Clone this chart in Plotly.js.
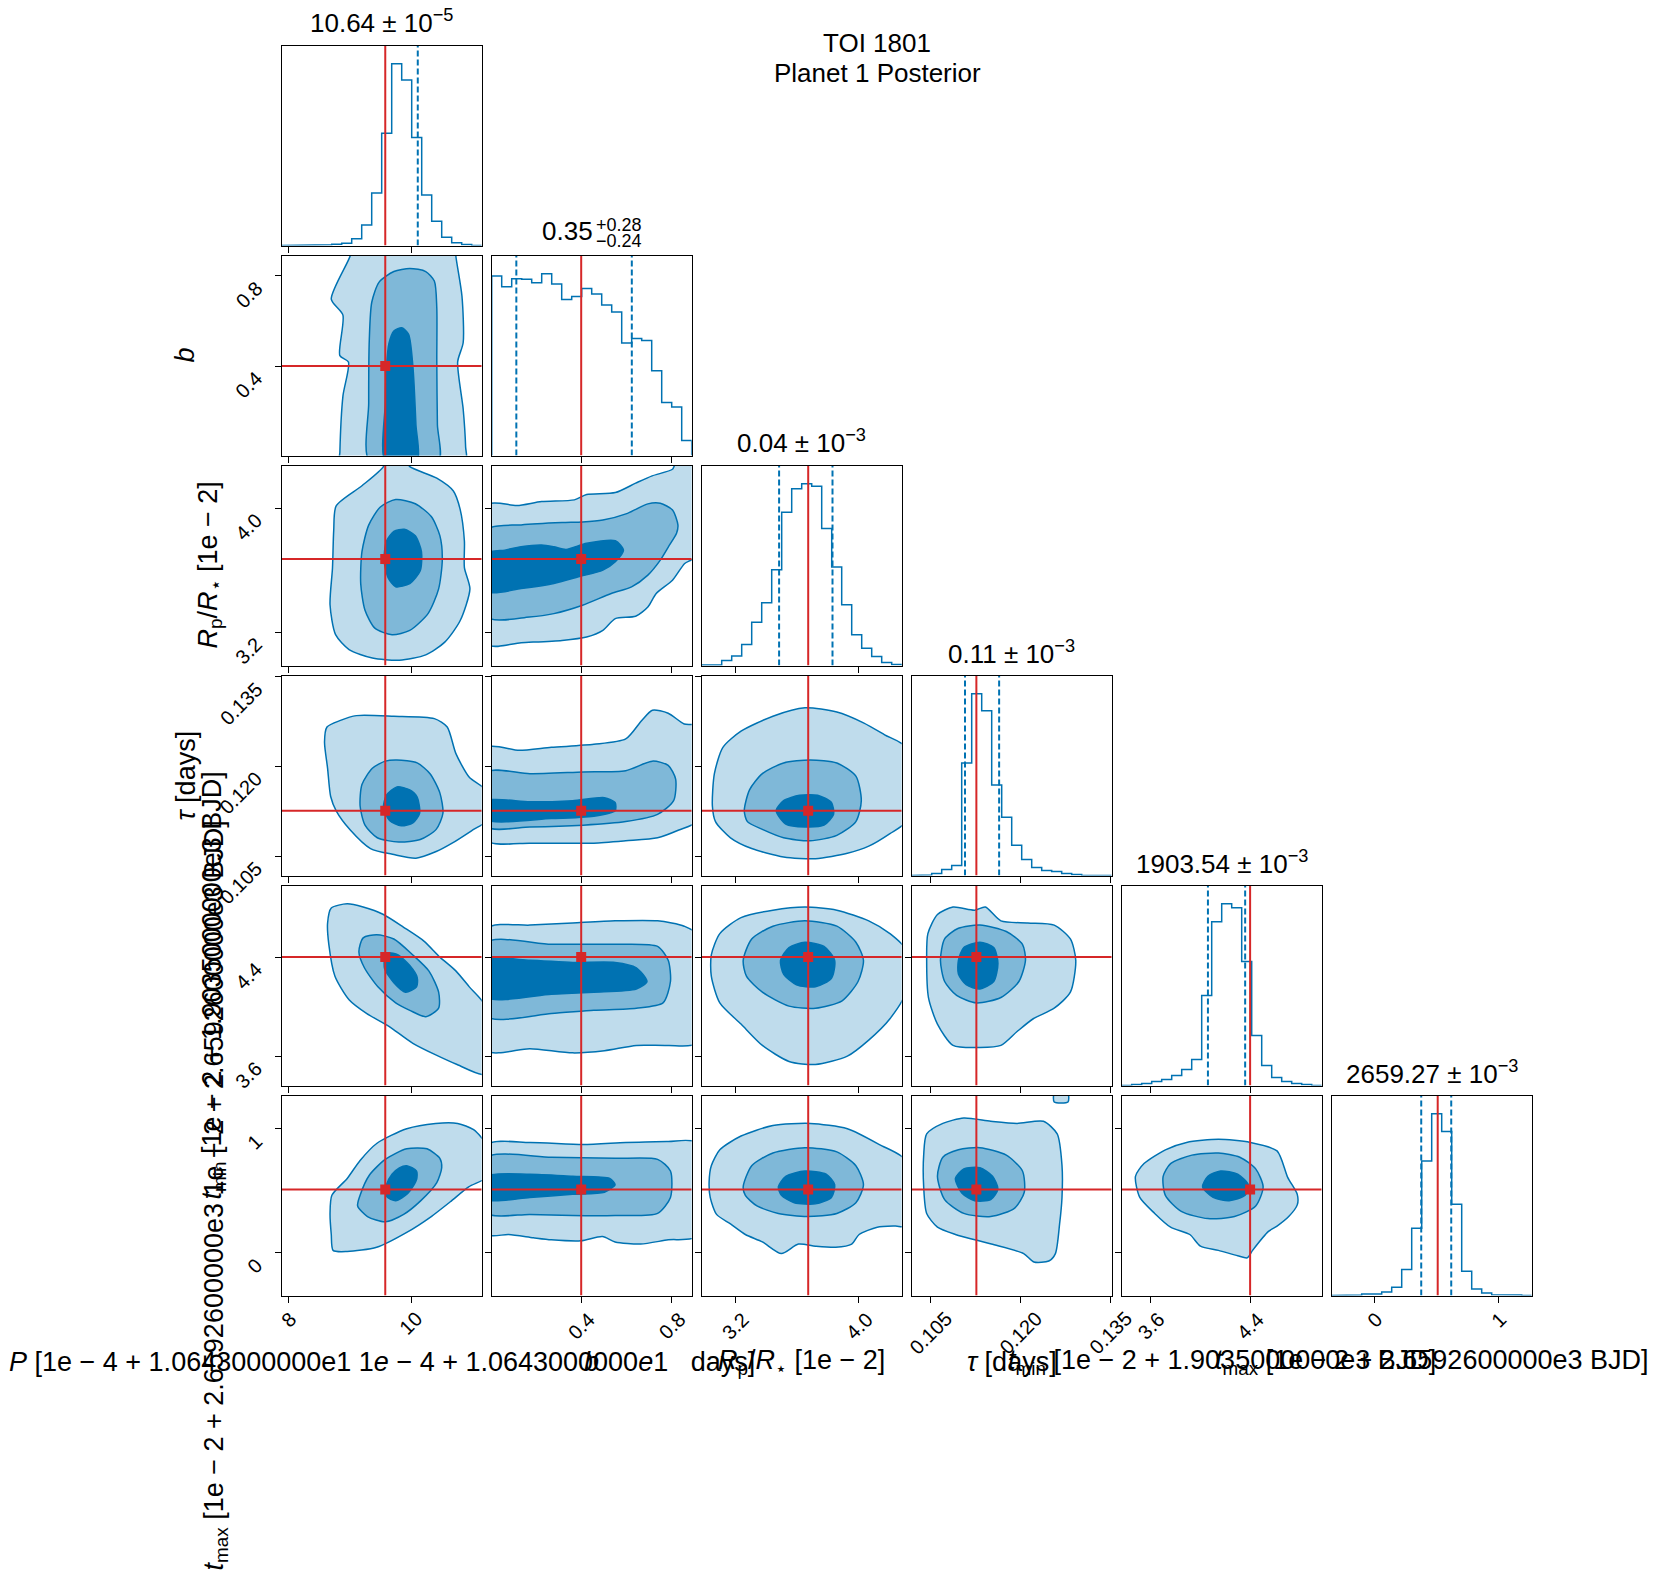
<!DOCTYPE html>
<html><head><meta charset="utf-8">
<script src="https://cdn.plot.ly/plotly-3.0.1.min.js"></script>
<style>html,body{margin:0;padding:0;background:#fff}#plot{width:1661px;height:1590px}</style>
</head><body><div id="plot"></div>
<script>
// ---------------- data ----------------
const rangeP=[7.892,11.152], rangeB=[0.004,0.889], rangeR=[2.984,4.276], rangeT=[0.1018,0.1352], rangeN=[3.365,4.977], rangeX=[-0.345,1.268];
const truthVals=[9.58,0.40,3.672,0.1126,4.40,0.51];
const tickP=[8,10], tickB=[0.4,0.8], tickR=[3.2,4.0], tickT=[0.105,0.120,0.135], tickN=[3.6,4.4], tickX=[0,1];
const labP=['8','10'], labB=['0.4','0.8'], labR=['3.2','4.0'], labT=['0.105','0.120','0.135'], labN=['3.6','4.4'], labX=['0','1'];
// histogram counts (20 bins over each range)
const histP=[0,0,0,0,2,4,7,20,62,158,338,547,498,325,152,73,25,8,3,0];
const histB=[901,848,888,885,868,913,861,783,799,838,811,756,721,565,587,577,425,266,244,75];
const histR=[3,3,25,47,105,217,314,480,768,886,911,898,686,493,304,154,87,45,15,5];
const histT=[0,3,10,30,50,560,905,820,450,290,150,80,40,25,20,10,5,0,0,0];
const histN=[0,5,10,20,30,50,80,130,450,820,910,890,620,250,100,40,20,10,5,0];
const histX=[0,0,3,7,7,18,42,130,337,675,912,822,458,122,33,12,4,3,2,0];
// dashed quantile lines
const quantP=[10.11], quantB=[0.113,0.624], quantR=[3.484,3.829], quantT=[0.1107,0.1164], quantN=[4.06,4.36], quantX=[0.377,0.619];
// diagonal titles
const diagTitles=['10.64 ± 10<sup>−5</sup>','0.35','0.04 ± 10<sup>−3</sup>','0.11 ± 10<sup>−3</sup>','1903.54 ± 10<sup>−3</sup>','2659.27 ± 10<sup>−3</sup>'];
const bSup='+0.28', bSub='−0.24';
const axisLabels=['<i>P</i> [1e − 4 + 1.0643000000e1 1<i>e</i> − 4 + 1.0643000000<i>e</i>1 &nbsp; days]','<i>b</i>','<i>R</i><sub>p</sub>/<i>R</i><sub>⋆</sub> [1e − 2]','<i>τ</i> [days]','<i>t</i><sub>min</sub> [1e − 2 + 1.9035000000e3 BJD]','<i>t</i><sub>max</sub> [1e − 2 + 2.6592600000e3 BJD]'];
const yLabels=['','<i>b</i>','<i>R</i><sub>p</sub>/<i>R</i><sub>⋆</sub> [1e − 2]','<i>τ</i> [days]','<i>t</i><sub>min</sub> [1e − 2 + 1.9035000000e3 BJD]','<i>t</i><sub>max</sub> [1e − 2 + 2.6592600000e3 1e − 2 + 2.6592600000e3 BJD]'];
const titleLines=['TOI 1801','Planet 1 Posterior'];

// contour polygons (outer=1, middle=2, inner=3), x = column variable, y = row variable
const bP_1x=[9.01,9.01,8.70,8.89,8.84,8.98,8.89,8.84,8.84,10.89,10.89,10.85,10.76,10.85,10.83,10.73,10.73];
const bP_1y=[0.92,0.889,0.696,0.625,0.446,0.418,0.267,0.017,-0.02,-0.02,0.041,0.210,0.418,0.503,0.710,0.889,0.92];
const bP_2x=[9.32,9.31,9.32,9.36,9.48,9.72,9.98,10.24,10.38,10.42,10.42,10.43,10.45];
const bP_2y=[-0.02,0.234,0.517,0.682,0.771,0.818,0.832,0.818,0.776,0.658,0.422,0.14,-0.02];
const bP_3x=[9.58,9.58,9.60,9.64,9.72,9.85,9.96,10.03,10.08,10.10];
const bP_3y=[-0.02,0.234,0.399,0.500,0.555,0.569,0.540,0.400,0.14,-0.02];

const RP_1x=[8.78,9.20,9.55,9.58,9.88,9.98,10.42,10.69,10.80,10.87,10.87,10.96,10.80,10.55,10.24,9.81,9.37,8.99,8.77,8.68,8.72,8.74];
const RP_1y=[4.015,4.145,4.269,4.324,4.324,4.269,4.194,4.111,3.994,3.788,3.616,3.479,3.273,3.135,3.053,3.018,3.032,3.087,3.183,3.376,3.616,3.857];
const RP_2x=[9.75,10.07,10.33,10.47,10.51,10.45,10.28,9.98,9.69,9.41,9.25,9.18,9.20,9.31,9.50];
const RP_2y=[4.056,4.029,3.946,3.823,3.671,3.479,3.321,3.211,3.183,3.225,3.341,3.513,3.719,3.891,4.008];
const RP_3x=[9.89,10.07,10.17,10.15,9.98,9.75,9.63,9.56,9.60,9.72];
const RP_3y=[3.864,3.822,3.719,3.596,3.513,3.493,3.548,3.664,3.788,3.850];

const TP_1x=[8.63,8.85,9.11,9.72,10.38,10.59,10.73,10.95,11.21,11.21,11.02,10.67,10.41,10.08,9.72,9.34,9.01,8.78,8.69,8.64,8.59];
const TP_1y=[0.1266,0.1277,0.1285,0.1284,0.1280,0.1266,0.1222,0.1182,0.1161,0.1108,0.1095,0.1072,0.1058,0.1047,0.1053,0.1063,0.1094,0.1126,0.1150,0.1197,0.1241];
const TP_2x=[9.77,10.10,10.31,10.47,10.52,10.41,10.15,9.80,9.45,9.25,9.17,9.20,9.37,9.58];
const TP_2y=[0.1211,0.1206,0.1188,0.1156,0.1122,0.1095,0.1078,0.1074,0.1081,0.1102,0.1134,0.1170,0.1197,0.1209];
const TP_3x=[9.77,9.98,10.10,10.14,10.03,9.84,9.65,9.55,9.60];
const TP_3y=[0.1166,0.1161,0.1149,0.1122,0.1106,0.1101,0.1110,0.1131,0.1152];

const NP_1x=[8.70,8.96,9.22,9.55,9.88,10.21,10.47,10.73,10.95,11.21,11.21,10.75,10.03,9.64,9.28,8.99,8.76,8.66,8.64];
const NP_1y=[4.795,4.829,4.803,4.743,4.640,4.529,4.400,4.289,4.160,4.005,3.456,3.534,3.705,3.842,3.945,4.057,4.246,4.503,4.675];
const NP_2x=[9.22,9.44,9.72,10.03,10.29,10.45,10.45,10.24,9.98,9.75,9.46,9.24,9.15];
const NP_2y=[4.555,4.580,4.546,4.417,4.289,4.117,3.988,3.920,3.971,4.031,4.160,4.314,4.443];
const NP_3x=[9.63,9.79,9.98,10.10,10.09,9.91,9.72,9.57,9.57];
const NP_3y=[4.434,4.417,4.332,4.237,4.160,4.117,4.194,4.306,4.392];

const XP_1x=[8.73,8.96,9.44,9.93,10.33,10.64,10.94,11.25,11.25,11.02,10.76,10.40,9.93,9.44,9.17,8.96,8.71,8.68,8.70];
const XP_1y=[0.019,0.010,0.044,0.164,0.292,0.411,0.531,0.616,0.855,0.992,1.043,1.043,1.000,0.881,0.744,0.599,0.463,0.317,0.147];
const XP_2x=[9.17,9.32,9.58,9.93,10.26,10.47,10.50,10.42,10.16,9.88,9.58,9.29,9.13];
const XP_2y=[0.463,0.625,0.753,0.838,0.838,0.761,0.685,0.565,0.420,0.309,0.249,0.292,0.377];
const XP_3x=[9.60,9.69,9.81,9.93,10.09,10.09,9.95,9.75,9.60];
const XP_3y=[0.548,0.633,0.685,0.702,0.659,0.591,0.480,0.420,0.454];

const Rb_1x=[-0.01,0.116,0.225,0.370,0.424,0.551,0.641,0.714,0.804,0.819,0.904,0.904,0.858,0.804,0.732,0.695,0.641,0.551,0.496,0.424,0.315,0.134,-0.01];
const Rb_1y=[4.025,4.017,4.043,4.054,4.088,4.101,4.162,4.209,4.252,4.291,4.291,3.686,3.643,3.535,3.449,3.362,3.302,3.287,3.211,3.168,3.146,3.131,3.118];
const Rb_2x=[-0.01,0.134,0.315,0.406,0.496,0.605,0.695,0.750,0.804,0.828,0.822,0.786,0.750,0.695,0.623,0.533,0.406,0.279,0.171,-0.01];
const Rb_2y=[3.866,3.892,3.907,3.911,3.924,3.967,4.028,4.032,3.989,3.892,3.838,3.751,3.665,3.568,3.492,3.449,3.373,3.319,3.298,3.293];
const Rb_3x=[-0.01,0.062,0.134,0.225,0.279,0.333,0.424,0.551,0.587,0.551,0.496,0.388,0.279,0.134,-0.01];
const Rb_3y=[3.712,3.729,3.751,3.762,3.751,3.734,3.773,3.790,3.729,3.654,3.600,3.557,3.514,3.481,3.460];

const Tb_1x=[-0.015,0.126,0.268,0.456,0.597,0.668,0.715,0.785,0.856,0.908,0.908,0.832,0.738,0.597,0.456,0.315,0.173,-0.015];
const Tb_1y=[0.1232,0.1227,0.1232,0.1237,0.1246,0.1277,0.1294,0.1289,0.1271,0.1268,0.1108,0.1094,0.1081,0.1076,0.1072,0.1072,0.1072,0.1076];
const Tb_2x=[-0.015,0.173,0.409,0.597,0.715,0.785,0.818,0.809,0.738,0.597,0.409,0.173,-0.015];
const Tb_2y=[0.1191,0.1188,0.1191,0.1193,0.1209,0.1202,0.1179,0.1143,0.1120,0.1108,0.1102,0.1099,0.1099];
const Tb_3x=[-0.015,0.173,0.362,0.503,0.550,0.550,0.456,0.268,-0.015];
const Tb_3y=[0.1143,0.1141,0.1143,0.1148,0.1140,0.1126,0.1117,0.1113,0.1111];

const Nb_1x=[-0.015,0.173,0.362,0.550,0.738,0.856,0.908,0.908,0.785,0.644,0.503,0.362,0.173,-0.015];
const Nb_1y=[4.632,4.658,4.675,4.692,4.692,4.649,4.589,3.705,3.688,3.688,3.645,3.628,3.662,3.645];
const Nb_2x=[-0.015,0.268,0.550,0.738,0.785,0.795,0.762,0.644,0.456,0.268,-0.015];
const Nb_2y=[4.520,4.503,4.503,4.486,4.374,4.203,4.031,3.988,3.971,3.945,3.920];
const Nb_3x=[-0.015,0.173,0.362,0.550,0.644,0.691,0.644,0.456,0.268,-0.015];
const Nb_3y=[4.374,4.374,4.357,4.357,4.314,4.203,4.143,4.117,4.100,4.074];

const Xb_1x=[-0.015,0.173,0.409,0.597,0.785,0.908,0.908,0.785,0.663,0.550,0.494,0.399,0.268,0.188,0.079,-0.015];
const Xb_1y=[0.872,0.889,0.872,0.889,0.898,0.889,0.130,0.104,0.070,0.087,0.130,0.096,0.104,0.121,0.147,0.147];
const Xb_2x=[-0.015,0.268,0.550,0.738,0.795,0.795,0.738,0.550,0.362,0.173,-0.015];
const Xb_2y=[0.770,0.770,0.761,0.753,0.659,0.446,0.317,0.300,0.300,0.309,0.317];
const Xb_3x=[-0.015,0.173,0.362,0.526,0.550,0.503,0.362,0.173,-0.015];
const Xb_3y=[0.616,0.633,0.616,0.599,0.548,0.488,0.471,0.446,0.428];

const TR_1x=[3.053,3.066,3.121,3.238,3.444,3.651,3.857,4.029,4.166,4.303,4.303,4.200,4.063,3.925,3.719,3.513,3.307,3.170,3.073];
const TR_1y=[0.1134,0.1188,0.1232,0.1259,0.1284,0.1298,0.1291,0.1273,0.1253,0.1232,0.1108,0.1088,0.1067,0.1055,0.1046,0.1049,0.1063,0.1081,0.1108];
const TR_2x=[3.259,3.293,3.376,3.513,3.685,3.857,3.980,4.015,3.980,3.857,3.685,3.513,3.376,3.279];
const TR_2y=[0.1126,0.1161,0.1188,0.1206,0.1211,0.1206,0.1184,0.1143,0.1108,0.1085,0.1076,0.1081,0.1095,0.1108];
const TR_3x=[3.465,3.513,3.616,3.733,3.822,3.836,3.774,3.651,3.527];
const TR_3y=[0.1126,0.1143,0.1152,0.1152,0.1140,0.1120,0.1102,0.1099,0.1104];

const NR_1x=[3.046,3.101,3.238,3.444,3.651,3.857,4.063,4.200,4.303,4.303,4.200,4.063,3.925,3.719,3.548,3.376,3.238,3.101,3.046];
const NR_1y=[4.417,4.589,4.718,4.778,4.803,4.778,4.692,4.589,4.460,4.117,3.903,3.731,3.602,3.534,3.559,3.688,3.860,4.031,4.246];
const NR_2x=[3.252,3.307,3.444,3.651,3.857,3.980,4.029,3.994,3.891,3.719,3.548,3.376,3.273];
const NR_2y=[4.374,4.546,4.649,4.692,4.649,4.520,4.374,4.203,4.048,3.988,4.005,4.117,4.246];
const NR_3x=[3.493,3.548,3.651,3.774,3.843,3.822,3.719,3.596,3.513];
const NR_3y=[4.374,4.477,4.520,4.486,4.374,4.229,4.160,4.177,4.263];

const XR_1x=[3.032,3.046,3.101,3.238,3.444,3.685,3.925,4.132,4.303,4.303,4.235,4.118,4.001,3.953,3.850,3.719,3.609,3.499,3.376,3.266,3.170,3.080,3.039];
const XR_1y=[0.574,0.702,0.830,0.941,1.026,1.043,1.000,0.872,0.744,0.215,0.215,0.206,0.147,0.070,0.044,0.053,0.070,-0.007,0.087,0.147,0.232,0.309,0.446];
const XR_2x=[3.252,3.307,3.444,3.651,3.857,3.980,4.029,3.980,3.857,3.664,3.479,3.341,3.266];
const XR_2y=[0.531,0.702,0.804,0.847,0.813,0.702,0.548,0.403,0.317,0.292,0.317,0.377,0.463];
const XR_3x=[3.479,3.527,3.651,3.788,3.843,3.822,3.719,3.582,3.499];
const XR_3y=[0.531,0.616,0.659,0.633,0.548,0.446,0.394,0.403,0.463];

const NT_1x=[0.1043,0.1045,0.1061,0.1087,0.1123,0.1141,0.1167,0.1212,0.1256,0.1283,0.1292,0.1283,0.1256,0.1221,0.1194,0.1167,0.1132,0.1087,0.1061,0.1046];
const NT_1y=[4.374,4.589,4.743,4.803,4.778,4.803,4.692,4.675,4.658,4.546,4.374,4.117,3.988,3.903,3.800,3.688,3.671,3.688,3.860,4.074];
const NT_2x=[0.1066,0.1073,0.1096,0.1132,0.1176,0.1203,0.1208,0.1197,0.1167,0.1126,0.1093,0.1073];
const NT_2y=[4.374,4.546,4.632,4.658,4.606,4.503,4.374,4.203,4.074,4.031,4.091,4.203];
const NT_3x=[0.1096,0.1105,0.1132,0.1155,0.1162,0.1155,0.1132,0.1109,0.1096];
const NT_3y=[4.374,4.477,4.520,4.477,4.349,4.203,4.143,4.177,4.263];

const XT_1x=[0.1038,0.1043,0.1070,0.1105,0.1150,0.1194,0.1238,0.1261,0.1269,0.1269,0.1265,0.1258,0.1247,0.1222,0.1205,0.1151,0.1091,0.1061,0.1043,0.1038];
const XT_1y=[0.787,0.958,1.043,1.086,1.060,1.043,1.060,0.958,0.702,0.446,0.232,-0.007,-0.067,-0.075,-0.007,0.070,0.147,0.206,0.317,0.531];
const XT_blobx=[0.1256,0.1279,0.1279,0.1256];
const XT_bloby=[1.28,1.28,1.215,1.215];
const XT_2x=[0.1061,0.1070,0.1096,0.1132,0.1176,0.1203,0.1206,0.1190,0.1150,0.1105,0.1073];
const XT_2y=[0.616,0.770,0.830,0.847,0.787,0.659,0.488,0.360,0.292,0.317,0.428];
const XT_3x=[0.1091,0.1105,0.1132,0.1153,0.1162,0.1150,0.1123,0.1102];
const XT_3y=[0.599,0.676,0.685,0.616,0.514,0.428,0.420,0.480];

const XN_1x=[3.476,3.545,3.717,3.888,4.145,4.402,4.617,4.703,4.780,4.780,4.711,4.617,4.548,4.420,4.377,4.300,4.145,4.000,3.914,3.759,3.631,3.511];
const XN_1y=[0.616,0.719,0.830,0.889,0.915,0.889,0.821,0.608,0.471,0.386,0.292,0.215,0.172,0.019,-0.041,-0.024,0.019,0.053,0.147,0.206,0.317,0.446];
const XN_2x=[3.699,3.759,3.931,4.145,4.317,4.445,4.505,4.445,4.274,4.060,3.845,3.717];
const XN_2y=[0.616,0.719,0.787,0.804,0.770,0.676,0.531,0.377,0.292,0.275,0.334,0.463];
const XN_3x=[4.017,4.060,4.162,4.300,4.385,4.360,4.231,4.102];
const XN_3y=[0.531,0.616,0.659,0.633,0.548,0.463,0.420,0.446];

// ---------------- build ----------------
const W=1661, H=1590;
const LEFT0=281.7, TOP0=45.5, SIZE=200, PITCH=210;
const FONT='Liberation Sans, Arial, Helvetica, sans-serif';
const BLUE='#0072b2', RED='#d62728';
const FILL=['#bfdcec','#7fb8d8','#0072b2'];
const ranges=[rangeP,rangeB,rangeR,rangeT,rangeN,rangeX];
const ticks=[tickP,tickB,tickR,tickT,tickN,tickX];
const tickLabs=[labP,labB,labR,labT,labN,labX];
const hists=[histP,histB,histR,histT,histN,histX];
const quants=[quantP,quantB,quantR,quantT,quantN,quantX];
const contours=[
 [1,0,[[bP_1x,bP_1y]],[bP_2x,bP_2y],[bP_3x,bP_3y]],
 [2,0,[[RP_1x,RP_1y]],[RP_2x,RP_2y],[RP_3x,RP_3y]],
 [3,0,[[TP_1x,TP_1y]],[TP_2x,TP_2y],[TP_3x,TP_3y]],
 [4,0,[[NP_1x,NP_1y]],[NP_2x,NP_2y],[NP_3x,NP_3y]],
 [5,0,[[XP_1x,XP_1y]],[XP_2x,XP_2y],[XP_3x,XP_3y]],
 [2,1,[[Rb_1x,Rb_1y]],[Rb_2x,Rb_2y],[Rb_3x,Rb_3y]],
 [3,1,[[Tb_1x,Tb_1y]],[Tb_2x,Tb_2y],[Tb_3x,Tb_3y]],
 [4,1,[[Nb_1x,Nb_1y]],[Nb_2x,Nb_2y],[Nb_3x,Nb_3y]],
 [5,1,[[Xb_1x,Xb_1y]],[Xb_2x,Xb_2y],[Xb_3x,Xb_3y]],
 [3,2,[[TR_1x,TR_1y]],[TR_2x,TR_2y],[TR_3x,TR_3y]],
 [4,2,[[NR_1x,NR_1y]],[NR_2x,NR_2y],[NR_3x,NR_3y]],
 [5,2,[[XR_1x,XR_1y]],[XR_2x,XR_2y],[XR_3x,XR_3y]],
 [4,3,[[NT_1x,NT_1y]],[NT_2x,NT_2y],[NT_3x,NT_3y]],
 [5,3,[[XT_1x,XT_1y],[XT_blobx,XT_bloby]],[XT_2x,XT_2y],[XT_3x,XT_3y]],
 [5,4,[[XN_1x,XN_1y]],[XN_2x,XN_2y],[XN_3x,XN_3y]]
];
const idx=(i,j)=>i*(i+1)/2+j+1;
const xn=k=>k===1?'x':'x'+k, yn=k=>k===1?'y':'y'+k;
const px=v=>v/W, py=v=>1-v/H;
const colL=j=>LEFT0+j*PITCH, rowT=i=>TOP0+i*PITCH;
const histMax=h=>1.1*Math.max(...h);

const layout={width:W,height:H,margin:{l:0,r:0,t:0,b:0},paper_bgcolor:'#fff',plot_bgcolor:'#fff',showlegend:false,
  font:{family:FONT,color:'#000'},annotations:[]};
const traces=[];
for(let i=0;i<6;i++){for(let j=0;j<=i;j++){
  const k=idx(i,j);
  const common={showgrid:false,zeroline:false,showline:true,mirror:true,linecolor:'#000',linewidth:1,
    ticks:'outside',ticklen:6,tickwidth:1,tickcolor:'#000',showticklabels:false,fixedrange:true};
  layout[k===1?'xaxis':'xaxis'+k]=Object.assign({},common,{domain:[px(colL(j)),px(colL(j)+SIZE)],range:ranges[j],tickvals:ticks[j],anchor:yn(k)});
  if(i===j){
    layout[k===1?'yaxis':'yaxis'+k]=Object.assign({},common,{domain:[py(rowT(i)+SIZE),py(rowT(i))],range:[0,histMax(hists[i])],ticks:'',tickvals:[],anchor:xn(k)});
  } else {
    layout[k===1?'yaxis':'yaxis'+k]=Object.assign({},common,{domain:[py(rowT(i)+SIZE),py(rowT(i))],range:ranges[i],tickvals:ticks[i],anchor:xn(k)});
  }
}}

// 2D panels
contours.forEach(([i,j,outer,mid,inner])=>{
  const k=idx(i,j);
  const poly=(xy,lev)=>({type:'scatter',mode:'lines',x:xy[0].concat([xy[0][0]]),y:xy[1].concat([xy[1][0]]),fill:'toself',fillcolor:FILL[lev],
      line:{color:BLUE,width:1.5,shape:'spline',smoothing:0.7},xaxis:xn(k),yaxis:yn(k),hoverinfo:'skip'});
  outer.forEach(p=>traces.push(poly(p,0)));
  traces.push(poly(mid,1));
  traces.push(poly(inner,2));
  traces.push({type:'scatter',mode:'lines',x:[truthVals[j],truthVals[j]],y:ranges[i],line:{color:RED,width:2},xaxis:xn(k),yaxis:yn(k),hoverinfo:'skip'});
  traces.push({type:'scatter',mode:'lines',x:ranges[j],y:[truthVals[i],truthVals[i]],line:{color:RED,width:2},xaxis:xn(k),yaxis:yn(k),hoverinfo:'skip'});
  traces.push({type:'scatter',mode:'markers',x:[truthVals[j]],y:[truthVals[i]],marker:{symbol:'square',size:10,color:RED},xaxis:xn(k),yaxis:yn(k),hoverinfo:'skip'});
});

// diagonal histograms
for(let i=0;i<6;i++){
  const k=idx(i,i), h=hists[i], r=ranges[i], n=h.length, w=(r[1]-r[0])/n;
  const xs=[r[0]], ys=[0];
  for(let b=0;b<n;b++){xs.push(r[0]+b*w,r[0]+(b+1)*w);ys.push(h[b],h[b]);}
  xs.push(r[1]);ys.push(0);
  traces.push({type:'scatter',mode:'lines',x:xs,y:ys,line:{color:BLUE,width:1.5},xaxis:xn(k),yaxis:yn(k),hoverinfo:'skip'});
  const top=histMax(h);
  quants[i].forEach(q=>traces.push({type:'scatter',mode:'lines',x:[q,q],y:[0,top],line:{color:BLUE,width:2,dash:'6px,3px'},xaxis:xn(k),yaxis:yn(k),hoverinfo:'skip'}));
  traces.push({type:'scatter',mode:'lines',x:[truthVals[i],truthVals[i]],y:[0,top],line:{color:RED,width:2},xaxis:xn(k),yaxis:yn(k),hoverinfo:'skip'});
}

const A=layout.annotations;
const TICKF={family:FONT,size:20,color:'#000'};
const BIGF={family:FONT,size:26,color:'#000'};
const LABF={family:FONT,size:27,color:'#000'};
// x tick labels (bottom row)
for(let j=0;j<6;j++){
  const k=idx(5,j);
  ticks[j].forEach((v,t)=>A.push({xref:xn(k),yref:'paper',x:v,y:py(rowT(5)+SIZE+11),xanchor:'center',yanchor:'top',text:tickLabs[j][t],textangle:-45,showarrow:false,font:TICKF,borderpad:0}));
}
// y tick labels (first column)
for(let i=1;i<6;i++){
  const k=idx(i,0);
  ticks[i].forEach((v,t)=>A.push({xref:'paper',yref:yn(k),x:px(LEFT0-14),y:v,xanchor:'right',yanchor:'top',text:tickLabs[i][t],textangle:-45,showarrow:false,font:TICKF,borderpad:0}));
}
// x axis labels
for(let j=0;j<6;j++){
  A.push({xref:'paper',yref:'paper',x:px(colL(j)+SIZE/2),y:py(1362),xanchor:'center',yanchor:'middle',text:axisLabels[j],showarrow:false,font:LABF});
}
// y axis labels
const yLabX=[0,184,209,186,213,215];
for(let i=1;i<6;i++){
  A.push({xref:'paper',yref:'paper',x:px(yLabX[i]),y:py(rowT(i)+SIZE/2),xanchor:'center',yanchor:'middle',text:yLabels[i],textangle:-90,showarrow:false,font:LABF});
}
// diagonal titles
for(let i=0;i<6;i++){
  const cx=colL(i)+SIZE/2, cy=rowT(i)-23.5;
  if(i===1){
    A.push({xref:'paper',yref:'paper',x:px(594),y:py(230.5),xanchor:'right',yanchor:'middle',text:diagTitles[1],showarrow:false,font:BIGF,borderpad:0});
    A.push({xref:'paper',yref:'paper',x:px(595),y:py(224.5),xanchor:'left',yanchor:'middle',text:bSup,showarrow:false,font:{family:FONT,size:18,color:'#000'},borderpad:0});
    A.push({xref:'paper',yref:'paper',x:px(595),y:py(241),xanchor:'left',yanchor:'middle',text:bSub,showarrow:false,font:{family:FONT,size:18,color:'#000'},borderpad:0});
  } else {
    A.push({xref:'paper',yref:'paper',x:px(cx),y:py(cy),xanchor:'center',yanchor:'middle',text:diagTitles[i],showarrow:false,font:BIGF});
  }
}
// figure title
A.push({xref:'paper',yref:'paper',x:px(877),y:py(43),xanchor:'center',yanchor:'middle',text:titleLines[0],showarrow:false,font:BIGF});
A.push({xref:'paper',yref:'paper',x:px(877),y:py(73),xanchor:'center',yanchor:'middle',text:titleLines[1],showarrow:false,font:BIGF});

Plotly.newPlot('plot',traces,layout,{staticPlot:true,displayModeBar:false});
</script></body></html>
